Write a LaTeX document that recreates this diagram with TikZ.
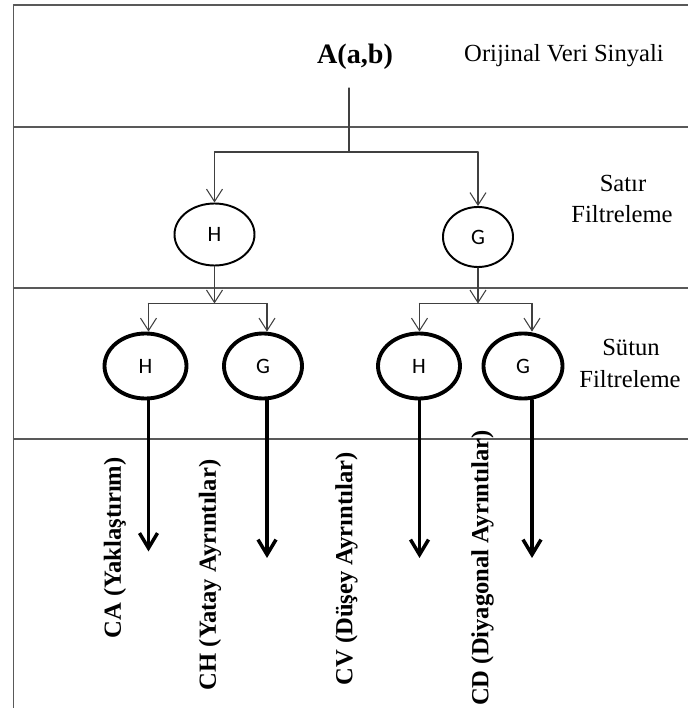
\documentclass[tikz,border=0pt]{standalone}
\usepackage{fontspec}
\setmainfont{Liberation Serif}
\newfontfamily\filterfont{Carlito}
\usetikzlibrary{positioning}
\usetikzlibrary{arrows.meta}
\usetikzlibrary{shapes.geometric}
\usepackage{tkz-euclide}

\begin{document}
\begin{tikzpicture}[line cap=round,line join=round,
  frameline/.style={line width=0.75pt,color=black!65},
  thinline/.style={line width=0.6pt,color=black!75},
  thinarrow/.style={thinline,-{Straight Barb[length=0.25cm,width=0.32cm]}},
  thickarrow/.style={line width=2pt,-{Straight Barb[length=0.3cm,width=0.36cm]}},
  rowfilter/.style={ellipse,draw,line width=1.1pt,inner sep=0pt,
    font=\filterfont\fontsize{12.5}{14}\selectfont},
  colfilter/.style={rowfilter,line width=2.2pt,minimum height=1.30cm},
  steptext/.style={font=\fontsize{14}{17}\selectfont,anchor=base},
  outtext/.style={font=\bfseries\fontsize{14}{17}\selectfont,rotate=90}]
\useasboundingbox (0,0) rectangle (13.76,14.16);

% frame and bands
\tkzDefPoint(0.27,14.06){F1}
\tkzDefPoint(13.76,14.06){F2}
\tkzDefPoint(0.27,0){F3}
\tkzDefPoint(0.27,11.62){L1}
\tkzDefPoint(13.76,11.62){R1}
\tkzDefPoint(0.27,8.40){L2}
\tkzDefPoint(13.76,8.40){R2}
\tkzDefPoint(0.27,5.38){L3}
\tkzDefPoint(13.76,5.38){R3}
\tkzDrawSegments[frameline](F1,F2 F1,F3 L1,R1 L2,R2 L3,R3)

% input signal
\node[font=\bfseries\fontsize{16}{19}\selectfont,anchor=base] (A) at (7.10,12.89) {A(a,b)};
\node[steptext] (orj) at (11.28,12.93) {Orijinal Veri Sinyali};
\coordinate (Atop) at (6.98,12.40);
\tkzDefPoint(6.98,11.12){S}
\tkzDefPoint(4.29,11.12){S1}
\tkzDefPoint(9.56,11.12){S2}

% row filtering
\node[rowfilter,minimum width=1.60cm,minimum height=1.24cm] (H) at (4.29,9.47) {H};
\node[rowfilter,minimum width=1.40cm,minimum height=1.20cm] (G) at (9.56,9.42) {G};
\node[steptext] (sat1) at (12.46,10.32) {Satır};
\node[steptext] (sat2) at (12.44,9.70) {Filtreleme};

\draw[thinline] (Atop) -- (S);
\draw[thinline] (S1) -- (S2);
\draw[thinarrow] (S1) -- (H.north);
\draw[thinarrow] (S2) -- (G.north);

\tkzDefPoint(4.29,8.09){T1}
\tkzDefPoint(2.97,8.09){T11}
\tkzDefPoint(5.34,8.09){T12}
\tkzDefPoint(9.56,8.09){T2}
\tkzDefPoint(8.39,8.09){T21}
\tkzDefPoint(10.64,8.09){T22}

% column filtering
\node[colfilter,minimum width=1.64cm] (HH) at (2.91,6.84) {H};
\node[colfilter,minimum width=1.56cm] (HG) at (5.26,6.84) {G};
\node[colfilter,minimum width=1.64cm] (GH) at (8.38,6.84) {H};
\node[colfilter,minimum width=1.58cm] (GG) at (10.46,6.84) {G};
\node[steptext] (sut1) at (12.62,7.06) {Sütun};
\node[steptext] (sut2) at (12.60,6.42) {Filtreleme};

\draw[thinarrow] (H.south) -- (T1);
\draw[thinarrow] (G.south) -- (T2);
\draw[thinline] (T11) -- (T12);
\draw[thinline] (T21) -- (T22);
\draw[thinarrow] (T11) -- (T11 |- HH.north);
\draw[thinarrow] (T12) -- (T12 |- HG.north);
\draw[thinarrow] (T21) -- (T21 |- GH.north);
\draw[thinarrow] (T22) -- (T22 |- GG.north);

% outputs
\coordinate (E1) at (2.97,3.13);
\coordinate (E2) at (5.34,3.00);
\coordinate (E3) at (8.39,3.00);
\coordinate (E4) at (10.64,3.00);
\draw[thickarrow] (E1 |- HH.south) -- (E1);
\draw[thickarrow] (E2 |- HG.south) -- (E2);
\draw[thickarrow] (E3 |- GH.south) -- (E3);
\draw[thickarrow] (E4 |- GG.south) -- (E4);

\node[outtext] (CA) at (2.30,3.20) {CA (Yaklaştırım)};
\node[outtext] (CH) at (4.20,2.66) {CH (Yatay Ayrıntılar)};
\node[outtext] (CV) at (6.93,2.78) {CV (Düşey Ayrıntılar)};
\node[outtext] (CD) at (9.65,2.80) {CD (Diyagonal Ayrıntılar)};
\end{tikzpicture}
\end{document}
